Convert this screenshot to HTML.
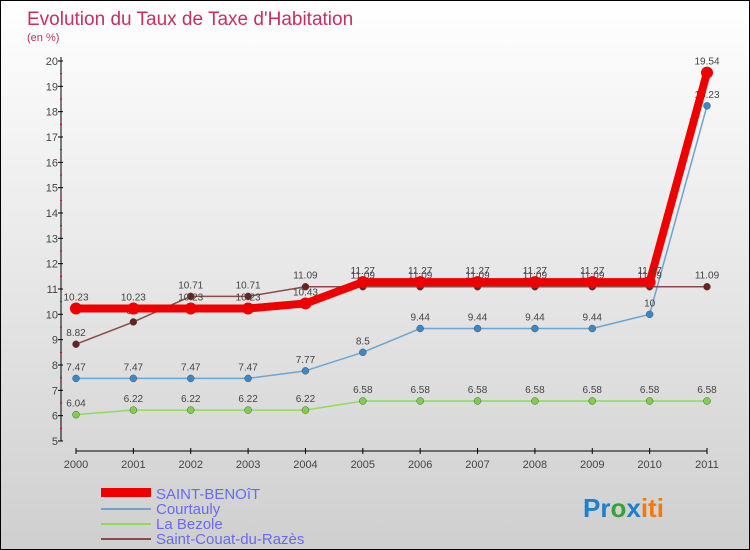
<!DOCTYPE html>
<html><head><meta charset="utf-8"><style>
body{margin:0}
#c{width:750px;height:550px;box-sizing:border-box;border:1px solid #000;background:linear-gradient(#fff,#cfcfcf);position:relative;font-family:"Liberation Sans",sans-serif;overflow:hidden}
text{font-family:"Liberation Sans",sans-serif}
</style></head><body>
<div id="c">
<svg id="s" width="750" height="550">
<text x="26" y="24" font-size="19" fill="#c8305f">Evolution du Taux de Taxe d'Habitation</text>
<text x="26" y="40" font-size="11" fill="#c8305f">(en %)</text>
<g id="axes"></g><g id="series"></g>
<g>
<rect x="100" y="487" width="50" height="9" fill="#e00"/>
<text x="155" y="498" font-size="15" fill="#6a6af0">SAINT-BENOîT</text>
<rect x="100" y="507" width="50" height="2" fill="#6ea4d0"/>
<text x="155" y="513" font-size="15" fill="#6a6af0">Courtauly</text>
<rect x="100" y="522" width="50" height="2" fill="#8edc5a"/>
<text x="155" y="528" font-size="15" fill="#6a6af0">La Bezole</text>
<rect x="100" y="537" width="50" height="2" fill="#8a4a4a"/>
<text x="155" y="543" font-size="15" fill="#6a6af0">Saint-Couat-du-Razès</text>
</g>
<text x="582" y="516" font-size="26" font-weight="bold"><tspan fill="#1e7fd0">Pr</tspan><tspan fill="#3aa03a">o</tspan><tspan fill="#1e7fd0">x</tspan><tspan fill="#f07a10">iti</tspan></text>
</svg></div>
<script>
const years=[2000,2001,2002,2003,2004,2005,2006,2007,2008,2009,2010,2011];
const saintBenoit=[10.23,10.23,10.23,10.23,10.43,11.27,11.27,11.27,11.27,11.27,11.27,19.54];
const courtauly=[7.47,7.47,7.47,7.47,7.77,8.5,9.44,9.44,9.44,9.44,10,18.23];
const laBezole=[6.04,6.22,6.22,6.22,6.22,6.58,6.58,6.58,6.58,6.58,6.58,6.58];
const saintCouat=[8.82,9.7,10.71,10.71,11.09,11.09,11.09,11.09,11.09,11.09,11.09,11.09];
const yTicks=[5,6,7,8,9,10,11,12,13,14,15,16,17,18,19,20];
const NS="http://www.w3.org/2000/svg";
const X=i=>75+i*(631/11);
const Y=v=>440-(v-5)*(380/15);
function mk(tag,attrs,parent){const e=document.createElementNS(NS,tag);for(const k in attrs)e.setAttribute(k,attrs[k]);parent.appendChild(e);return e;}
const ax=document.getElementById('axes');
let l=mk('line',{x1:60,y1:Y(20)-4,x2:60,y2:Y(5),stroke:'#000'},ax);


l=mk('line',{x1:75,y1:450,x2:706,y2:450,stroke:'#000'},ax);


yTicks.forEach(v=>{
 mk('line',{x1:57,y1:Y(v),x2:62,y2:Y(v),stroke:'#000'},ax);
 if(v<20) mk('line',{x1:59,y1:Y(v+0.5),x2:61,y2:Y(v+0.5),stroke:'#e00'},ax);
 const t=mk('text',{x:57,y:Y(v)+4,'text-anchor':'end','font-size':11,fill:'#444'},ax);t.textContent=v;
 
 
});
years.forEach((y,i)=>{
 mk('line',{x1:X(i),y1:447,x2:X(i),y2:453,stroke:'#000'},ax);
 const t=mk('text',{x:X(i),y:467,'text-anchor':'middle','font-size':11,fill:'#444'},ax);t.textContent=y;
 
 
});
const sg=document.getElementById('series');
function draw(vals,color,w,r,dot,name){
 const g=mk('g',{},sg);
 
 
 mk('polyline',{points:vals.map((v,i)=>X(i)+','+Y(v)).join(' '),fill:'none',stroke:color,'stroke-width':w,'stroke-linejoin':'round'},g);
 vals.forEach((v,i)=>{
  const c=mk('circle',{cx:X(i),cy:Y(v),r:r,fill:dot,stroke:dot==color?'none':'#555','stroke-width':0.5},g);
  
  
  const t=mk('text',{x:X(i),y:Y(v)-8,'text-anchor':'middle','font-size':10,fill:'#444'},g);t.textContent=v;
  
  
 });
}
draw(laBezole,'#8edc5a',1.5,3.5,'#7ed04a','la-bezole');
draw(courtauly,'#6ea4d0',1.5,3.5,'#3a88c8','courtauly');
draw(saintCouat,'#8a4a4a',1.5,3.5,'#6a2020','saint-couat');
draw(saintBenoit,'#ee0000',8,6,'#ee0000','saint-benoit');
</script>
</body></html>
